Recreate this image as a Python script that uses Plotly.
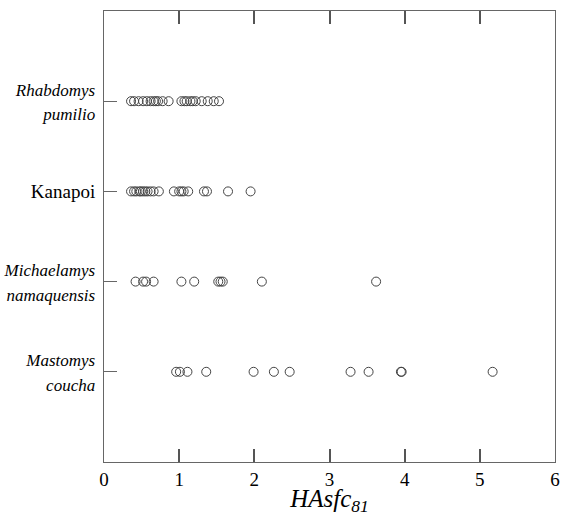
import plotly.graph_objects as go

categories = ["Mastomys coucha", "Michaelamys namaquensis", "Kanapoi", "Rhabdomys pumilio"]
tick_labels = ["<span style='font-size:17px'><i>Mastomys</i><br><i>coucha</i></span>",
               "<span style='font-size:17px'><i>Michaelamys</i><br><i>namaquensis</i></span>",
               "Kanapoi",
               "<span style='font-size:17px'><i>Rhabdomys</i><br><i>pumilio</i></span>"]
x_ticks = [0, 1, 2, 3, 4, 5, 6]

mastomys = [0.96, 1.01, 1.11, 1.36, 1.99, 2.26, 2.47, 3.28, 3.52, 3.95, 3.96, 5.17]
michaelamys = [0.42, 0.52, 0.56, 0.66, 1.03, 1.20, 1.52, 1.55, 1.58, 2.10, 3.62]
kanapoi = [0.36, 0.40, 0.43, 0.47, 0.49, 0.52, 0.55, 0.58, 0.62, 0.66, 0.73,
           0.93, 1.00, 1.03, 1.06, 1.12, 1.33, 1.37, 1.65, 1.95]
rhabdomys = [0.36, 0.40, 0.46, 0.52, 0.57, 0.62, 0.66, 0.69, 0.72, 0.78, 0.86,
             1.03, 1.07, 1.10, 1.15, 1.18, 1.22, 1.30, 1.38, 1.46, 1.53]

series = [mastomys, michaelamys, kanapoi, rhabdomys]

fig = go.Figure()
for i, vals in enumerate(series):
    fig.add_trace(go.Scatter(
        x=vals, y=[i + 1] * len(vals), mode="markers",
        marker=dict(symbol="circle-open", size=9, color="#444", line=dict(width=1)),
        showlegend=False, name=categories[i]))

serif = "Liberation Serif"

fig.update_layout(
    width=568, height=516,
    margin=dict(l=104, r=13, t=11, b=54),
    plot_bgcolor="white", paper_bgcolor="white",
    font=dict(family=serif, size=19, color="black"),
)
fig.update_xaxes(range=[0, 6], tickmode="array", tickvals=x_ticks,
                 showline=True, linecolor="#666", linewidth=1, mirror="allticks",
                 ticks="inside", ticklen=13, tickcolor="#555", tickwidth=1.5,
                 showgrid=False, zeroline=False, automargin=False,
                 title=dict(text="<i>HAsfc</i><sub><i>81</i></sub>",
                            font=dict(family=serif, size=25), standoff=3),
                 tickfont=dict(family=serif, size=19))
fig.update_yaxes(range=[0, 5], tickmode="array", tickvals=[1, 2, 3, 4], ticktext=tick_labels,
                 showline=True, linecolor="#666", linewidth=1, mirror=True,
                 ticks="inside", ticklen=13, tickcolor="#666", tickwidth=1,
                 showgrid=False, zeroline=False, automargin=False,
                 tickfont=dict(family=serif, size=19), ticklabelstandoff=4)

fig.write_html("out.html")
